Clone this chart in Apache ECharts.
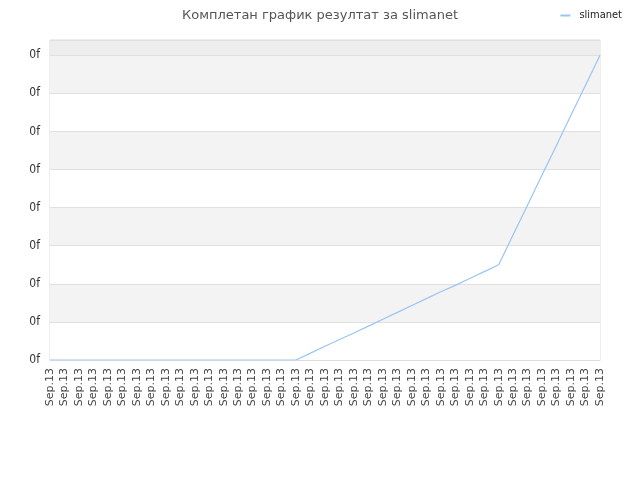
<!DOCTYPE html>
<html>
<head>
<meta charset="utf-8">
<script src="https://cdn.jsdelivr.net/npm/echarts@6/dist/echarts.min.js"></script>
<style>html,body{margin:0;padding:0;background:#fff}#c{width:640px;height:480px}</style>
</head>
<body>
<div id="c"></div>
<script>
var titleText = 'Комплетан график резултат за slimanet';
var seriesName = 'slimanet';
var categories = ['Sep.13','Sep.13','Sep.13','Sep.13','Sep.13','Sep.13','Sep.13','Sep.13','Sep.13','Sep.13',
  'Sep.13','Sep.13','Sep.13','Sep.13','Sep.13','Sep.13','Sep.13','Sep.13','Sep.13','Sep.13',
  'Sep.13','Sep.13','Sep.13','Sep.13','Sep.13','Sep.13','Sep.13','Sep.13','Sep.13','Sep.13',
  'Sep.13','Sep.13','Sep.13','Sep.13','Sep.13','Sep.13','Sep.13','Sep.13','Sep.13'];
var values = [0,0,0,0,0,0,0,0,0,0,
  0,0,0,0,0,0,0,0,0.18,0.36,
  0.54,0.71,0.89,1.07,1.25,1.43,1.61,1.79,1.96,2.14,
  2.32,2.5,3.29,4.07,4.86,5.64,6.43,7.21,8];
var yTickLabel = '0f';

var chart = echarts.init(document.getElementById('c'));
chart.setOption({
  animation: false,
  title: {
    text: titleText, left: 'center', top: 4,
    textStyle: {fontFamily: 'DejaVu Sans', fontSize: 13, fontWeight: 'normal', color: '#555'}
  },
  legend: {
    right: 13, top: 5, itemWidth: 10, itemHeight: 2, itemGap: 10,
    icon: 'rect',
    textStyle: {fontFamily: 'DejaVu Sans Condensed', fontSize: 11, color: '#222', padding: [0,0,0,4]},
    data: [seriesName]
  },
  grid: {left: 50, right: 40, top: 40, bottom: 120, containLabel: false,
    show: true, borderColor: '#dddddd', borderWidth: 1},
  xAxis: {
    type: 'category', data: categories, boundaryGap: false,
    axisLine: {show: true, lineStyle: {color: '#dddddd'}},
    axisTick: {show: false},
    axisLabel: {rotate: 90, interval: 0, fontFamily: 'DejaVu Sans', fontSize: 11, color: '#444', margin: 8},
    splitLine: {show: false}
  },
  yAxis: {
    type: 'value', min: 0, max: 8.4, interval: 1,
    axisLine: {show: false}, axisTick: {show: false},
    axisLabel: {formatter: function(){return yTickLabel;}, showMaxLabel: false,
      fontFamily: 'DejaVu Sans Condensed', fontSize: 12, color: '#333', margin: 10},
    splitLine: {show: true, lineStyle: {color: '#e0e0e0'}},
    splitArea: {show: true, areaStyle: {color: ['#ffffff','#f3f3f3','#ffffff','#f3f3f3','#ffffff','#f3f3f3','#ffffff','#f3f3f3','#ededed']}}
  },
  series: [{
    name: seriesName, type: 'line', data: values,
    symbol: 'none', lineStyle: {color: '#99c5f3', width: 1.2},
    itemStyle: {color: '#99c5f3'}
  }]
});
</script>
</body>
</html>
